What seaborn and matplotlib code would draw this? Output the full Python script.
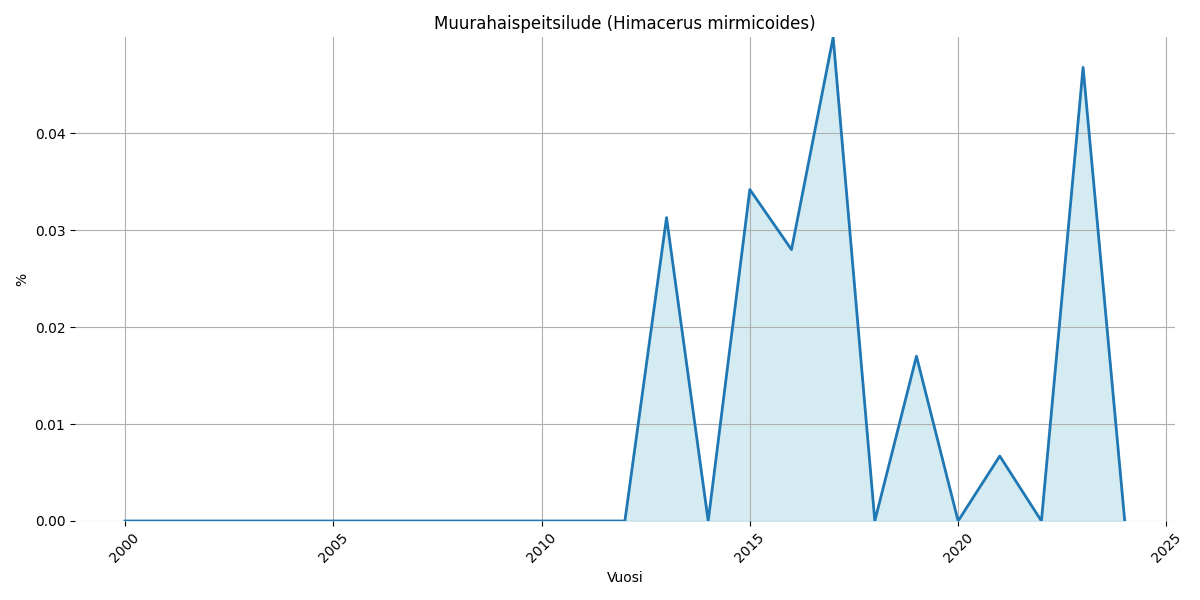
import numpy as np
import pandas as pd
import seaborn as sns
import matplotlib
matplotlib.use("Agg")
import matplotlib.pyplot as plt

# vuodet ja osuudet (%)
years = list(range(2000, 2025))
values = [0.0] * 13 + [0.0313, 0.0, 0.0342, 0.0280, 0.0499, 0.0, 0.0170, 0.0,
                       0.0067, 0.0, 0.0468, 0.0]
title = "Muurahaispeitsilude (Himacerus mirmicoides)"

df = pd.DataFrame({"Vuosi": years, "%": values})

plt.figure(figsize=(12, 6), dpi=100)
ax = sns.lineplot(data=df, x="Vuosi", y="%", linewidth=2, color="#1f77b4")
ax.fill_between(df["Vuosi"], df["%"], color="lightblue", alpha=0.5)
ax.set_ylim(0, max(values))
ax.set_title(title)
ax.grid(True)
plt.xticks(rotation=45)
sns.despine(left=True, bottom=True)
plt.tight_layout()
plt.savefig("out.png")
